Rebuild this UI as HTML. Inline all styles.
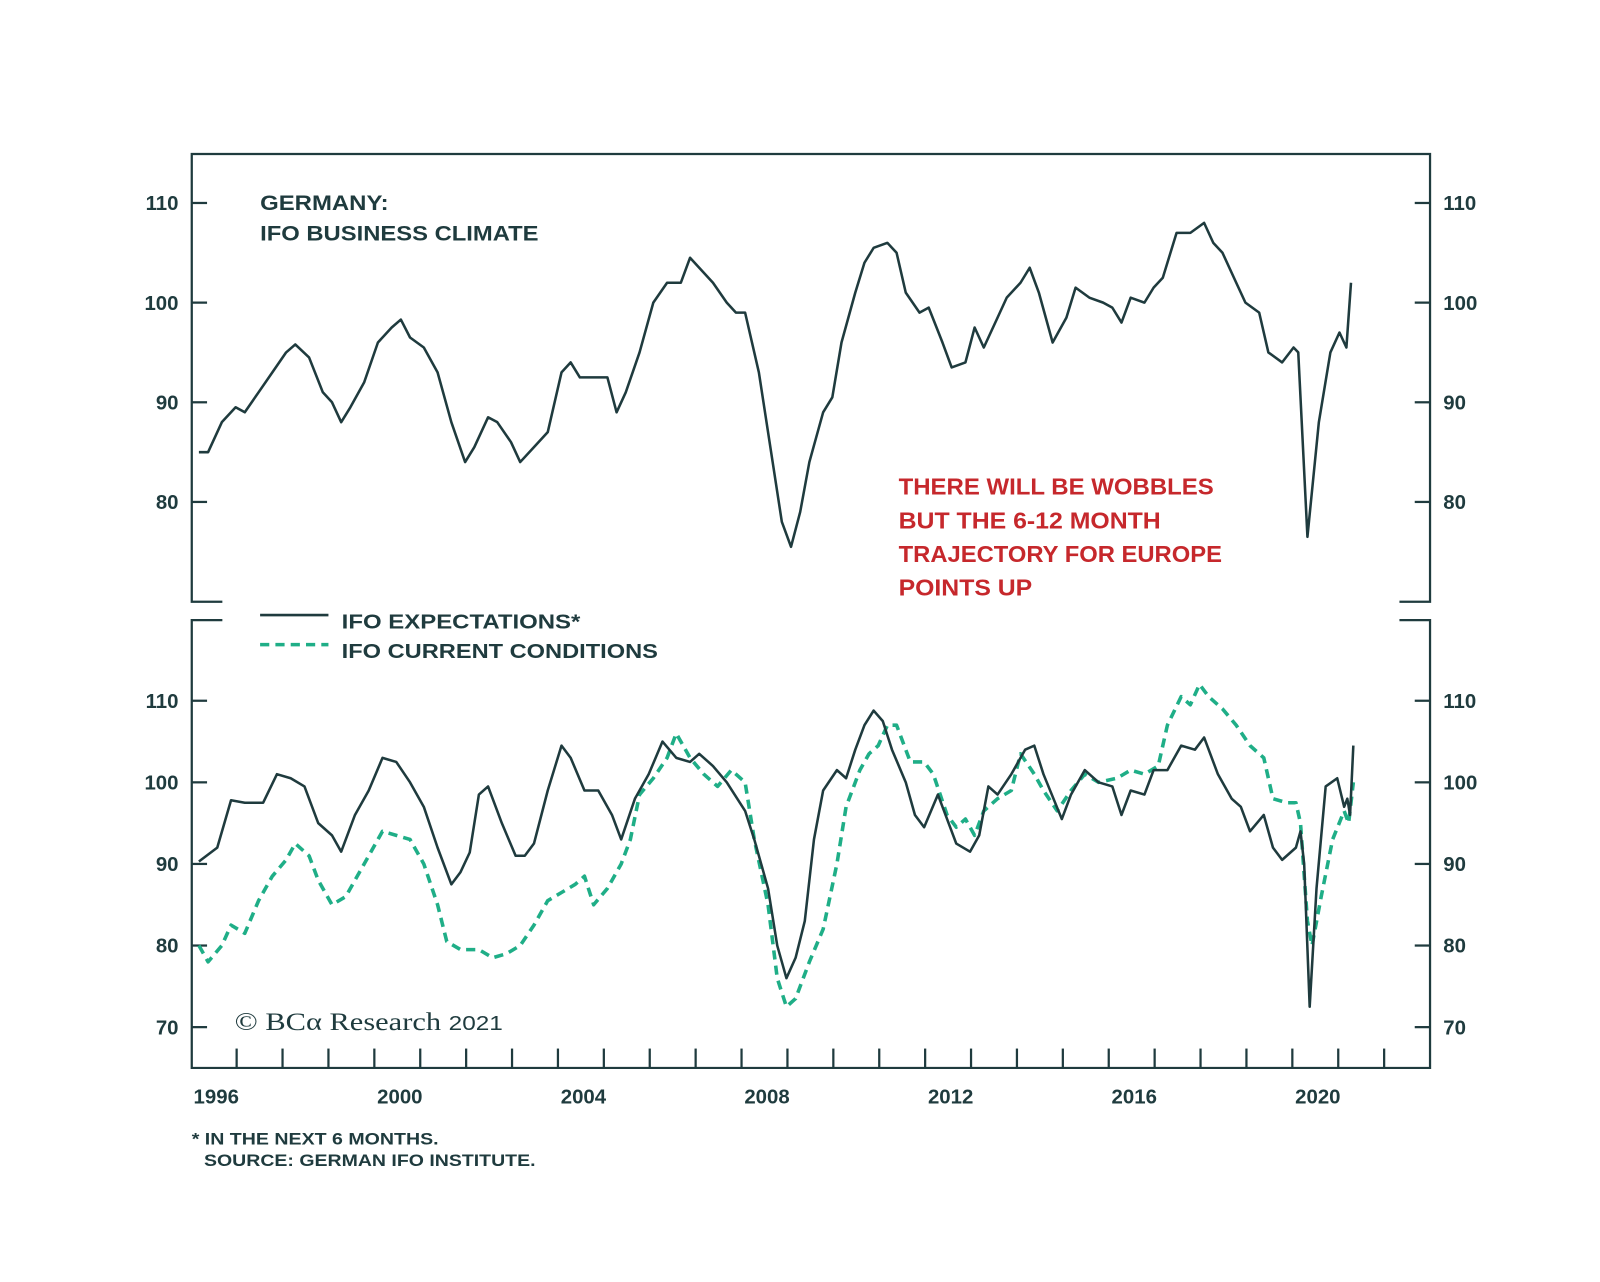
<!DOCTYPE html>
<html><head><meta charset="utf-8"><style>
html,body{margin:0;padding:0;background:#fff;}
svg{display:block;}
text{font-family:"Liberation Sans",Arial,sans-serif;font-weight:bold;fill:#1f3b3e;}
</style></head><body>
<svg id="chart" width="1600" height="1282" viewBox="0 0 1600 1282" xmlns="http://www.w3.org/2000/svg">
<g id="root" transform="scale(1.02)">
<g id="frame" stroke="#1f3b3e" stroke-width="2.2" fill="none"></g>
<g id="ticks" stroke="#1f3b3e" stroke-width="2.2"></g>
<g id="labels" font-size="20"></g>
<g id="series"></g>
<text x="255" y="206" font-size="21" textLength="126" lengthAdjust="spacingAndGlyphs">GERMANY:</text>
<text x="255" y="236" font-size="21" textLength="273" lengthAdjust="spacingAndGlyphs">IFO BUSINESS CLIMATE</text>
<g font-size="22.5">
<text x="881" y="485" style="fill:#c6282c" textLength="309" lengthAdjust="spacingAndGlyphs">THERE WILL BE WOBBLES</text>
<text x="881" y="518" style="fill:#c6282c" textLength="257" lengthAdjust="spacingAndGlyphs">BUT THE 6-12 MONTH</text>
<text x="881" y="551" style="fill:#c6282c" textLength="317" lengthAdjust="spacingAndGlyphs">TRAJECTORY FOR EUROPE</text>
<text x="881" y="584" style="fill:#c6282c" textLength="131" lengthAdjust="spacingAndGlyphs">POINTS UP</text>
</g>
<line x1="255" y1="603" x2="322" y2="603" stroke="#1f3b3e" stroke-width="2.5"/>
<text x="335" y="616" font-size="20" textLength="234" lengthAdjust="spacingAndGlyphs">IFO EXPECTATIONS*</text>
<line x1="255" y1="632" x2="322" y2="632" stroke="#1fae87" stroke-width="3.5" stroke-dasharray="9,6"/>
<text x="335" y="645" font-size="20" textLength="310" lengthAdjust="spacingAndGlyphs">IFO CURRENT CONDITIONS</text>
<text x="230" y="1010" font-size="25" textLength="263" lengthAdjust="spacingAndGlyphs" style="font-family:'Liberation Serif',serif;font-weight:normal">© BCα Research <tspan style="font-family:'Liberation Sans',sans-serif;font-size:20px">2021</tspan></text>
<text x="188" y="1122" font-size="16" textLength="242" lengthAdjust="spacingAndGlyphs">* IN THE NEXT 6 MONTHS.</text>
<text x="200" y="1143" font-size="16" textLength="325" lengthAdjust="spacingAndGlyphs">SOURCE: GERMAN IFO INSTITUTE.</text>
</g>
</svg>
<script>
const climYears=[1996.0,1996.2,1996.5,1996.8,1997.0,1997.3,1997.6,1997.9,1998.1,1998.4,1998.7,1998.9,1999.1,1999.3,1999.6,1999.9,2000.2,2000.4,2000.6,2000.9,2001.2,2001.5,2001.8,2002.0,2002.3,2002.5,2002.8,2003.0,2003.3,2003.6,2003.9,2004.1,2004.3,2004.6,2004.9,2005.1,2005.3,2005.6,2005.9,2006.2,2006.5,2006.7,2006.9,2007.2,2007.5,2007.7,2007.9,2008.2,2008.5,2008.7,2008.9,2009.1,2009.3,2009.6,2009.8,2010.0,2010.3,2010.5,2010.7,2011.0,2011.2,2011.4,2011.7,2011.9,2012.2,2012.4,2012.7,2012.9,2013.1,2013.4,2013.6,2013.9,2014.1,2014.3,2014.6,2014.9,2015.1,2015.4,2015.7,2015.9,2016.1,2016.3,2016.6,2016.8,2017.0,2017.3,2017.6,2017.9,2018.1,2018.3,2018.6,2018.8,2019.1,2019.3,2019.6,2019.85,2019.95,2020.15,2020.4,2020.65,2020.85,2021.0,2021.1];
const climVals=[85,85,88,89.5,89,91,93,95,95.8,94.5,91,90,88,89.5,92,96,97.5,98.3,96.5,95.5,93,88,84,85.5,88.5,88,86,84,85.5,87,93,94,92.5,92.5,92.5,89,91,95,100,102,102,104.5,103.5,102,100,99,99,93,84,78,75.5,79,84,89,90.5,96,101,104,105.5,106,105,101,99,99.5,96,93.5,94,97.5,95.5,98.5,100.5,102,103.5,101,96,98.5,101.5,100.5,100,99.5,98,100.5,100,101.5,102.5,107,107,108,106,105,102,100,99,95,94,95.5,95,76.5,88,95,97,95.5,102];
const expYears=[1996.0,1996.4,1996.7,1997.0,1997.4,1997.7,1998.0,1998.3,1998.6,1998.9,1999.1,1999.4,1999.7,2000.0,2000.3,2000.6,2000.9,2001.2,2001.5,2001.7,2001.9,2002.1,2002.3,2002.6,2002.9,2003.1,2003.3,2003.6,2003.9,2004.1,2004.4,2004.7,2005.0,2005.2,2005.5,2005.8,2006.1,2006.4,2006.7,2006.9,2007.2,2007.5,2007.9,2008.1,2008.4,2008.6,2008.8,2009.0,2009.2,2009.4,2009.6,2009.9,2010.1,2010.3,2010.5,2010.7,2010.9,2011.1,2011.4,2011.6,2011.8,2012.1,2012.3,2012.5,2012.8,2013.0,2013.2,2013.4,2013.7,2014.0,2014.2,2014.4,2014.8,2015.0,2015.3,2015.6,2015.9,2016.1,2016.3,2016.6,2016.8,2017.1,2017.4,2017.7,2017.9,2018.2,2018.5,2018.7,2018.9,2019.2,2019.4,2019.6,2019.9,2020.0,2020.08,2020.2,2020.35,2020.55,2020.8,2020.95,2021.02,2021.08,2021.15];
const expVals=[90.3,92,97.8,97.5,97.5,101,100.5,99.5,95,93.5,91.5,96,99,103,102.5,100,97,92,87.5,89,91.4,98.5,99.5,95,91,91,92.5,99,104.5,103,99,99,96,93,98,101,105,103,102.5,103.5,102,100,96.5,93,87,80,76,78.5,83,93,99,101.5,100.5,104,107,108.8,107.5,104,100,96,94.5,98.5,95.5,92.5,91.5,93.5,99.5,98.5,101,104,104.5,101,95.5,98.5,101.5,100,99.5,96,99,98.5,101.5,101.5,104.5,104,105.5,101,98,97,94,96,92,90.5,92,94,90,72.5,87,99.5,100.5,97,98,96,104.5];
const curYears=[1996.0,1996.2,1996.5,1996.7,1997.0,1997.3,1997.6,1997.9,1998.1,1998.4,1998.6,1998.9,1999.2,1999.5,1999.8,2000.0,2000.3,2000.6,2000.9,2001.2,2001.4,2001.7,2002.1,2002.4,2002.7,2003.0,2003.3,2003.6,2003.9,2004.2,2004.4,2004.6,2004.9,2005.2,2005.4,2005.6,2005.9,2006.2,2006.4,2006.7,2007.0,2007.3,2007.6,2007.9,2008.1,2008.4,2008.6,2008.8,2009.0,2009.3,2009.6,2009.9,2010.1,2010.4,2010.6,2010.8,2011.0,2011.2,2011.5,2011.8,2012.0,2012.3,2012.5,2012.7,2012.9,2013.1,2013.4,2013.7,2013.9,2014.2,2014.4,2014.7,2015.0,2015.3,2015.6,2016.0,2016.3,2016.6,2016.9,2017.1,2017.4,2017.6,2017.8,2018.0,2018.3,2018.6,2018.9,2019.2,2019.4,2019.7,2019.9,2020.0,2020.15,2020.25,2020.45,2020.7,2020.95,2021.05,2021.15];
const curVals=[80,78,80,82.5,81.5,85.5,88.5,90.5,92.5,91,88,85,86,89,92,94,93.5,93,90,85,80.5,79.5,79.5,78.5,79,80,82.5,85.5,86.5,87.5,88.5,85,87,90,93,98.5,100.5,103,106,103,101,99.5,101.5,100,93,85,76,72.5,73.5,78,82,90,97,101.5,103.5,104.5,107,107,102.5,102.5,101,96,94.5,95.5,93.5,96.5,98,99,103.5,101,99,96.5,99,101,100,100.5,101.5,101,102,107,110.5,109.5,112,110.5,109,107,104.5,103,98,97.5,97.5,95,83,80,86,93,96.5,95,100];
const topTicks=[80,90,100,110];
const botTicks=[70,80,90,100,110];
const yearLabels=[1996,2000,2004,2008,2012,2016,2020];

const NS='http://www.w3.org/2000/svg';
const xs=t=>195+(t-1996)*45;
const yTop=v=>199+(110-v)*9.77;
const yBot=v=>687+(110-v)*8.0;
function mk(tag,attrs,parent){const e=document.createElementNS(NS,tag);for(const k in attrs)e.setAttribute(k,attrs[k]);parent.appendChild(e);return e;}
const frame=document.getElementById('frame'),ticks=document.getElementById('ticks'),labels=document.getElementById('labels'),series=document.getElementById('series');
let f1=mk('path',{d:'M218,590 H188 V151 H1402 V590 H1372'},frame);


let f2=mk('path',{d:'M218,608 H188 V1047 H1402 V608 H1372'},frame);


function yAxis(vals,fy,name){vals.forEach(v=>{const y=fy(v);
 let a=mk('line',{x1:188,x2:203,y1:y,y2:y},ticks);
 
 
 let b=mk('line',{x1:1387,x2:1402,y1:y,y2:y},ticks);
 
 
 let l=mk('text',{x:175,y:y+7,'text-anchor':'end'},labels);l.textContent=v;
 
 
 let r=mk('text',{x:1415,y:y+7},labels);r.textContent=v;
 
 
});}
yAxis(topTicks,yTop,'top-y');
yAxis(botTicks,yBot,'bottom-y');
for(let yr=1996;yr<=2021;yr++){const x=xs(yr)+37;
 let t=mk('line',{x1:x,x2:x,y1:1047,y2:1028},ticks);
 
 }
yearLabels.forEach(yr=>{let l=mk('text',{x:xs(yr)+17,y:1082,'text-anchor':'middle'},labels);l.textContent=yr;
 
 });
function line(ys,vs,fy,attrs,name){const d=ys.map((t,i)=>(i?'L':'M')+xs(t).toFixed(1)+','+fy(vs[i]).toFixed(1)).join(' ');
 const p=mk('path',Object.assign({d:d,fill:'none','stroke-linejoin':'round'},attrs),series);
 
 }
line(climYears,climVals,yTop,{stroke:'#1f3b3e','stroke-width':2.5},'ifo-business-climate-line');
line(curYears,curVals,yBot,{stroke:'#1fae87','stroke-width':3.5,'stroke-dasharray':'9,6'},'ifo-current-conditions-line');
line(expYears,expVals,yBot,{stroke:'#1f3b3e','stroke-width':2.5},'ifo-expectations-line');
</script>
</body></html>
